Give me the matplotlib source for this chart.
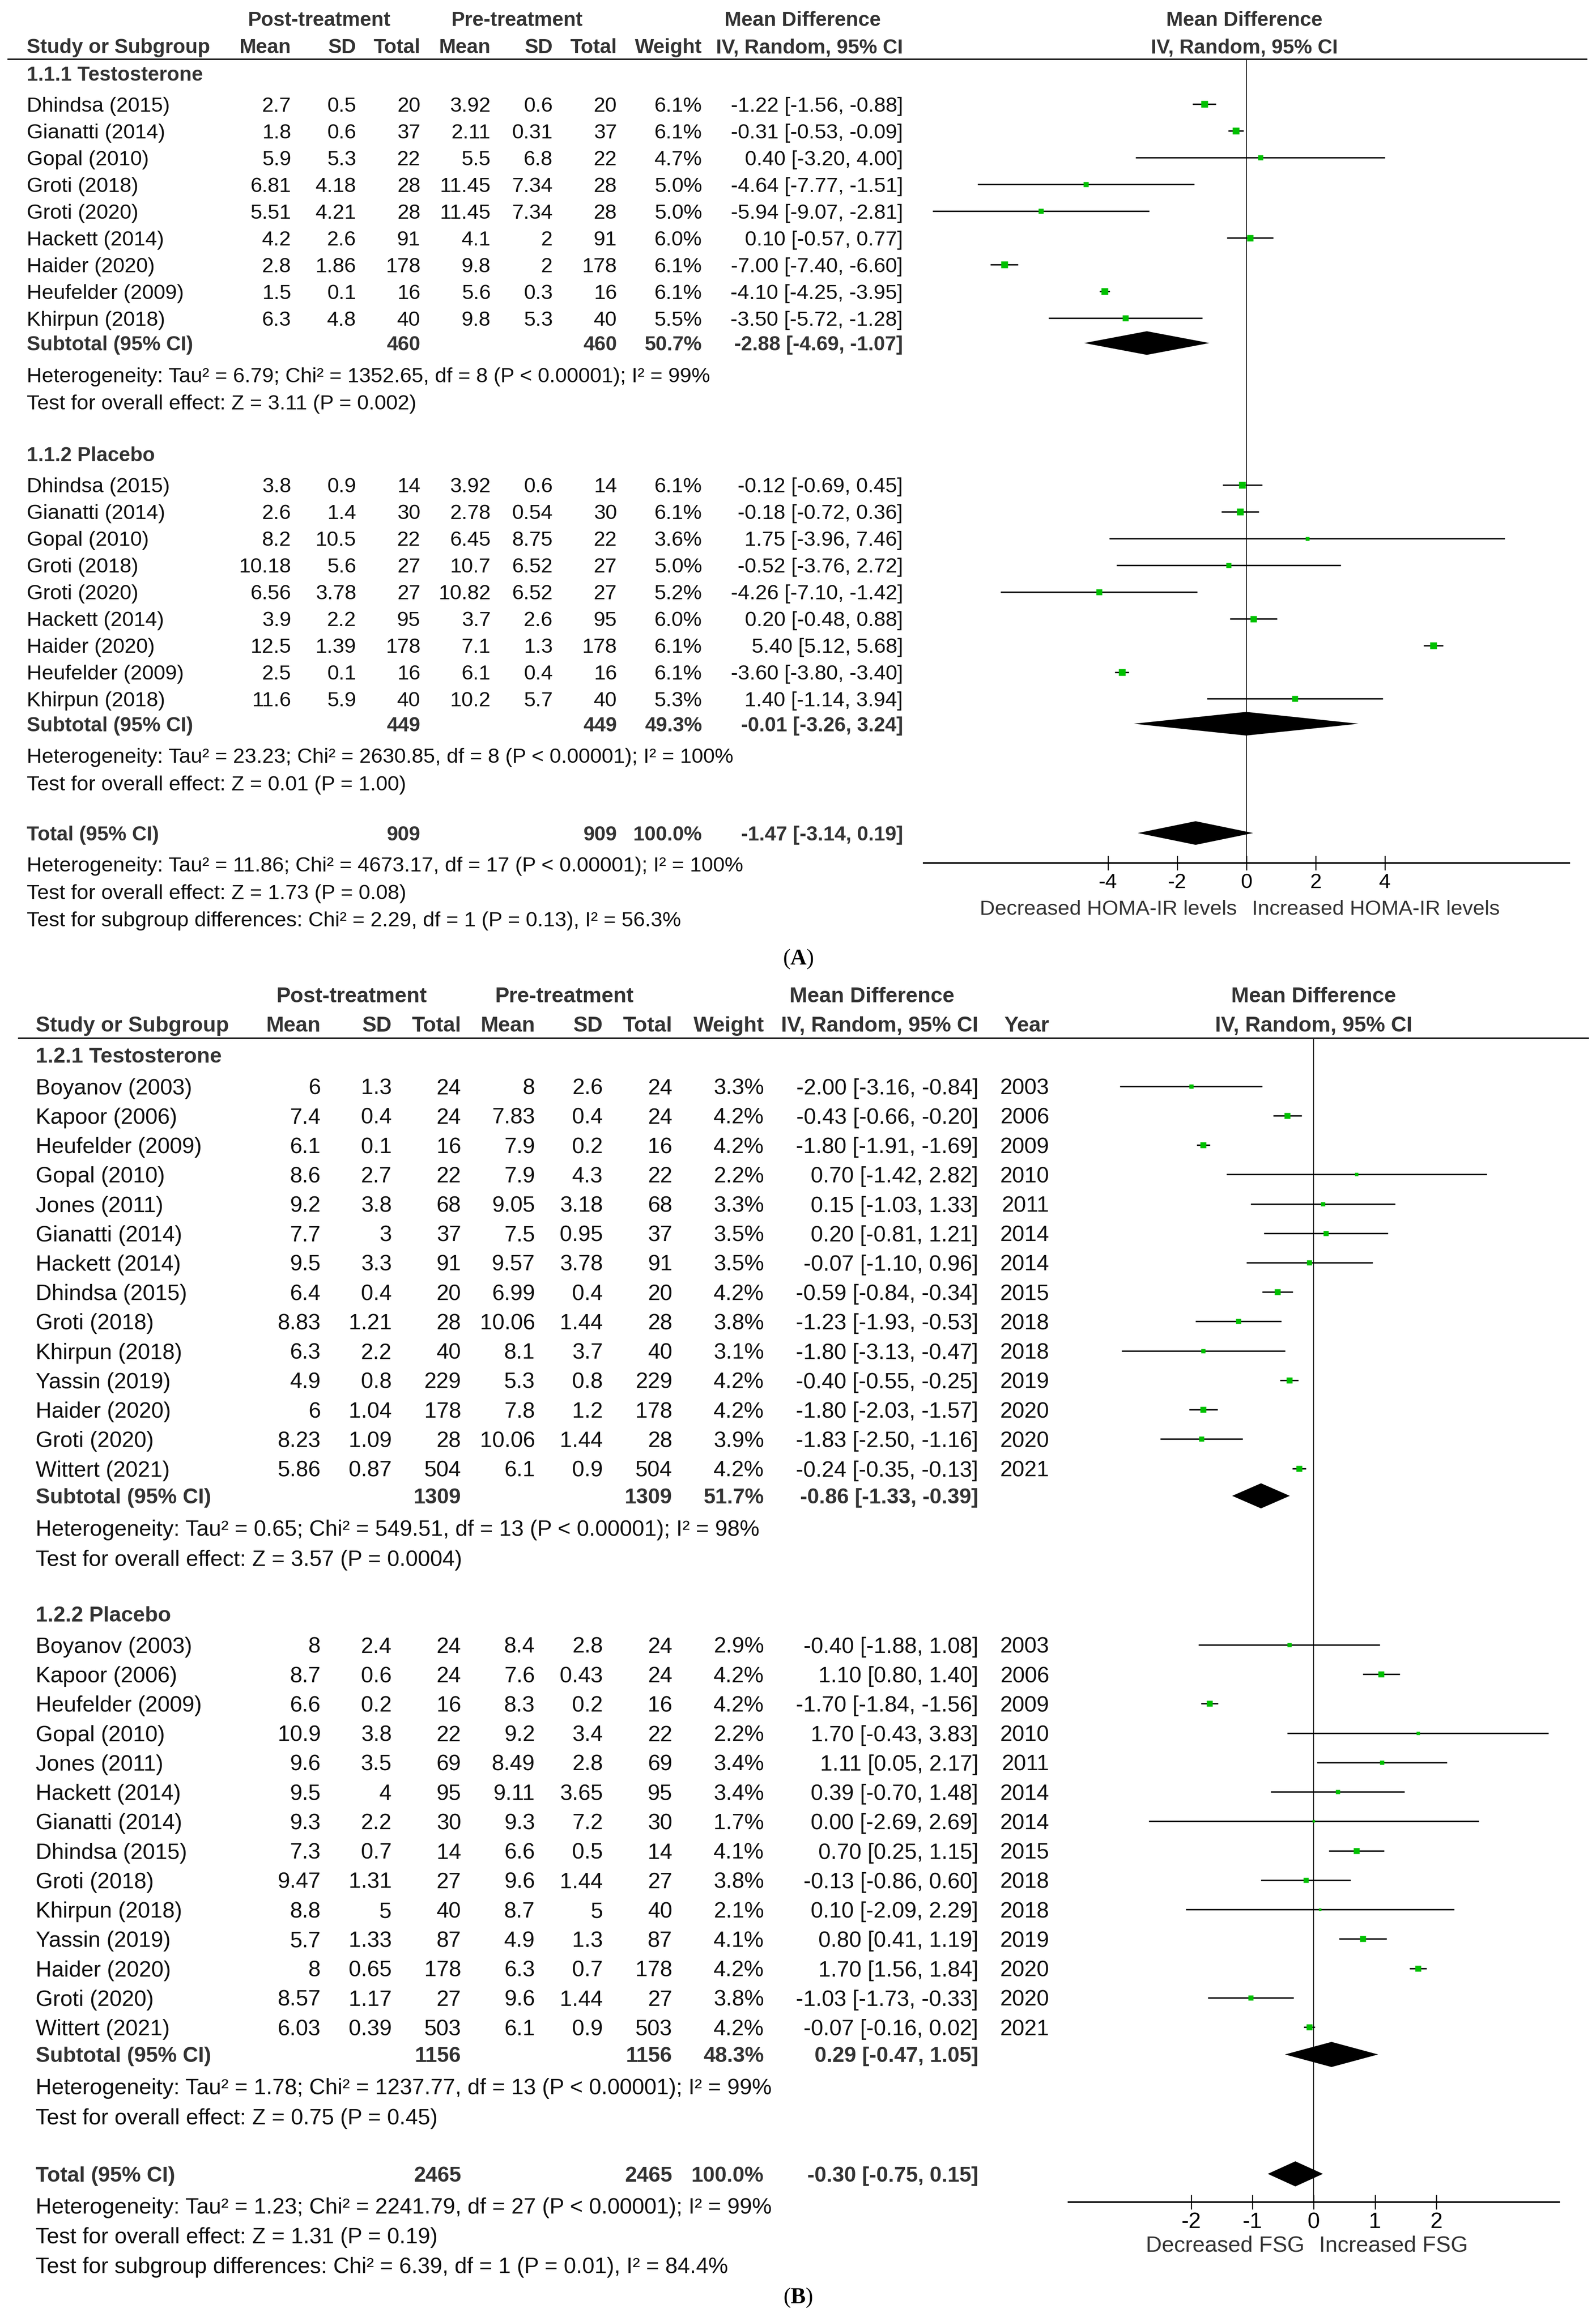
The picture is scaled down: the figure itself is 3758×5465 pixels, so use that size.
import matplotlib
matplotlib.use("Agg")
import matplotlib.pyplot as plt

# ---------------- Panel A: HOMA-IR ----------------
a1_study = ["Dhindsa (2015)", "Gianatti (2014)", "Gopal (2010)", "Groti (2018)", "Groti (2020)",
            "Hackett (2014)", "Haider (2020)", "Heufelder (2009)", "Khirpun (2018)"]
a1_post_mean = [2.7, 1.8, 5.9, 6.81, 5.51, 4.2, 2.8, 1.5, 6.3]
a1_post_sd = [0.5, 0.6, 5.3, 4.18, 4.21, 2.6, 1.86, 0.1, 4.8]
a1_post_n = [20, 37, 22, 28, 28, 91, 178, 16, 40]
a1_pre_mean = [3.92, 2.11, 5.5, 11.45, 11.45, 4.1, 9.8, 5.6, 9.8]
a1_pre_sd = [0.6, 0.31, 6.8, 7.34, 7.34, 2, 2, 0.3, 5.3]
a1_pre_n = [20, 37, 22, 28, 28, 91, 178, 16, 40]
a1_weight = [6.1, 6.1, 4.7, 5.0, 5.0, 6.0, 6.1, 6.1, 5.5]
a1_md = [-1.22, -0.31, 0.40, -4.64, -5.94, 0.10, -7.00, -4.10, -3.50]
a1_lo = [-1.56, -0.53, -3.20, -7.77, -9.07, -0.57, -7.40, -4.25, -5.72]
a1_hi = [-0.88, -0.09, 4.00, -1.51, -2.81, 0.77, -6.60, -3.95, -1.28]
a1_subtotal = [460, 460, 50.7, -2.88, -4.69, -1.07]
a1_notes = ["Heterogeneity: Tau² = 6.79; Chi² = 1352.65, df = 8 (P < 0.00001); I² = 99%",
            "Test for overall effect: Z = 3.11 (P = 0.002)"]

a2_study = a1_study
a2_post_mean = [3.8, 2.6, 8.2, 10.18, 6.56, 3.9, 12.5, 2.5, 11.6]
a2_post_sd = [0.9, 1.4, 10.5, 5.6, 3.78, 2.2, 1.39, 0.1, 5.9]
a2_post_n = [14, 30, 22, 27, 27, 95, 178, 16, 40]
a2_pre_mean = [3.92, 2.78, 6.45, 10.7, 10.82, 3.7, 7.1, 6.1, 10.2]
a2_pre_sd = [0.6, 0.54, 8.75, 6.52, 6.52, 2.6, 1.3, 0.4, 5.7]
a2_pre_n = [14, 30, 22, 27, 27, 95, 178, 16, 40]
a2_weight = [6.1, 6.1, 3.6, 5.0, 5.2, 6.0, 6.1, 6.1, 5.3]
a2_md = [-0.12, -0.18, 1.75, -0.52, -4.26, 0.20, 5.40, -3.60, 1.40]
a2_lo = [-0.69, -0.72, -3.96, -3.76, -7.10, -0.48, 5.12, -3.80, -1.14]
a2_hi = [0.45, 0.36, 7.46, 2.72, -1.42, 0.88, 5.68, -3.40, 3.94]
a2_subtotal = [449, 449, 49.3, -0.01, -3.26, 3.24]
a2_notes = ["Heterogeneity: Tau² = 23.23; Chi² = 2630.85, df = 8 (P < 0.00001); I² = 100%",
            "Test for overall effect: Z = 0.01 (P = 1.00)"]

a_total = [909, 909, 100.0, -1.47, -3.14, 0.19]
a_total_notes = ["Heterogeneity: Tau² = 11.86; Chi² = 4673.17, df = 17 (P < 0.00001); I² = 100%",
                 "Test for overall effect: Z = 1.73 (P = 0.08)",
                 "Test for subgroup differences: Chi² = 2.29, df = 1 (P = 0.13), I² = 56.3%"]
a_ticks = [-4, -2, 0, 2, 4]
a_xlabels = ["Decreased HOMA-IR levels", "Increased HOMA-IR levels"]

# ---------------- Panel B: FSG ----------------
b1_study = ["Boyanov (2003)", "Kapoor (2006)", "Heufelder (2009)", "Gopal (2010)", "Jones (2011)",
            "Gianatti (2014)", "Hackett (2014)", "Dhindsa (2015)", "Groti (2018)", "Khirpun (2018)",
            "Yassin (2019)", "Haider (2020)", "Groti (2020)", "Wittert (2021)"]
b1_post_mean = [6, 7.4, 6.1, 8.6, 9.2, 7.7, 9.5, 6.4, 8.83, 6.3, 4.9, 6, 8.23, 5.86]
b1_post_sd = [1.3, 0.4, 0.1, 2.7, 3.8, 3, 3.3, 0.4, 1.21, 2.2, 0.8, 1.04, 1.09, 0.87]
b1_post_n = [24, 24, 16, 22, 68, 37, 91, 20, 28, 40, 229, 178, 28, 504]
b1_pre_mean = [8, 7.83, 7.9, 7.9, 9.05, 7.5, 9.57, 6.99, 10.06, 8.1, 5.3, 7.8, 10.06, 6.1]
b1_pre_sd = [2.6, 0.4, 0.2, 4.3, 3.18, 0.95, 3.78, 0.4, 1.44, 3.7, 0.8, 1.2, 1.44, 0.9]
b1_pre_n = [24, 24, 16, 22, 68, 37, 91, 20, 28, 40, 229, 178, 28, 504]
b1_weight = [3.3, 4.2, 4.2, 2.2, 3.3, 3.5, 3.5, 4.2, 3.8, 3.1, 4.2, 4.2, 3.9, 4.2]
b1_md = [-2.00, -0.43, -1.80, 0.70, 0.15, 0.20, -0.07, -0.59, -1.23, -1.80, -0.40, -1.80, -1.83, -0.24]
b1_lo = [-3.16, -0.66, -1.91, -1.42, -1.03, -0.81, -1.10, -0.84, -1.93, -3.13, -0.55, -2.03, -2.50, -0.35]
b1_hi = [-0.84, -0.20, -1.69, 2.82, 1.33, 1.21, 0.96, -0.34, -0.53, -0.47, -0.25, -1.57, -1.16, -0.13]
b1_year = [2003, 2006, 2009, 2010, 2011, 2014, 2014, 2015, 2018, 2018, 2019, 2020, 2020, 2021]
b1_subtotal = [1309, 1309, 51.7, -0.86, -1.33, -0.39]
b1_notes = ["Heterogeneity: Tau² = 0.65; Chi² = 549.51, df = 13 (P < 0.00001); I² = 98%",
            "Test for overall effect: Z = 3.57 (P = 0.0004)"]

b2_study = ["Boyanov (2003)", "Kapoor (2006)", "Heufelder (2009)", "Gopal (2010)", "Jones (2011)",
            "Hackett (2014)", "Gianatti (2014)", "Dhindsa (2015)", "Groti (2018)", "Khirpun (2018)",
            "Yassin (2019)", "Haider (2020)", "Groti (2020)", "Wittert (2021)"]
b2_post_mean = [8, 8.7, 6.6, 10.9, 9.6, 9.5, 9.3, 7.3, 9.47, 8.8, 5.7, 8, 8.57, 6.03]
b2_post_sd = [2.4, 0.6, 0.2, 3.8, 3.5, 4, 2.2, 0.7, 1.31, 5, 1.33, 0.65, 1.17, 0.39]
b2_post_n = [24, 24, 16, 22, 69, 95, 30, 14, 27, 40, 87, 178, 27, 503]
b2_pre_mean = [8.4, 7.6, 8.3, 9.2, 8.49, 9.11, 9.3, 6.6, 9.6, 8.7, 4.9, 6.3, 9.6, 6.1]
b2_pre_sd = [2.8, 0.43, 0.2, 3.4, 2.8, 3.65, 7.2, 0.5, 1.44, 5, 1.3, 0.7, 1.44, 0.9]
b2_pre_n = [24, 24, 16, 22, 69, 95, 30, 14, 27, 40, 87, 178, 27, 503]
b2_weight = [2.9, 4.2, 4.2, 2.2, 3.4, 3.4, 1.7, 4.1, 3.8, 2.1, 4.1, 4.2, 3.8, 4.2]
b2_md = [-0.40, 1.10, -1.70, 1.70, 1.11, 0.39, 0.00, 0.70, -0.13, 0.10, 0.80, 1.70, -1.03, -0.07]
b2_lo = [-1.88, 0.80, -1.84, -0.43, 0.05, -0.70, -2.69, 0.25, -0.86, -2.09, 0.41, 1.56, -1.73, -0.16]
b2_hi = [1.08, 1.40, -1.56, 3.83, 2.17, 1.48, 2.69, 1.15, 0.60, 2.29, 1.19, 1.84, -0.33, 0.02]
b2_year = [2003, 2006, 2009, 2010, 2011, 2014, 2014, 2015, 2018, 2018, 2019, 2020, 2020, 2021]
b2_subtotal = [1156, 1156, 48.3, 0.29, -0.47, 1.05]
b2_notes = ["Heterogeneity: Tau² = 1.78; Chi² = 1237.77, df = 13 (P < 0.00001); I² = 99%",
            "Test for overall effect: Z = 0.75 (P = 0.45)"]

b_total = [2465, 2465, 100.0, -0.30, -0.75, 0.15]
b_total_notes = ["Heterogeneity: Tau² = 1.23; Chi² = 2241.79, df = 27 (P < 0.00001); I² = 99%",
                 "Test for overall effect: Z = 1.31 (P = 0.19)",
                 "Test for subgroup differences: Chi² = 6.39, df = 1 (P = 0.01), I² = 84.4%"]
b_ticks = [-2, -1, 0, 1, 2]
b_xlabels = ["Decreased FSG", "Increased FSG"]

FONT = ["Liberation Sans", "DejaVu Sans"]
plt.rcParams["font.family"] = FONT
plt.rcParams["mathtext.fontset"] = "custom"
plt.rcParams["mathtext.rm"] = "Liberation Serif"
plt.rcParams["mathtext.bf"] = "Liberation Serif:bold"

TXT = "#111111"
HDR = "#333333"
GREEN = "#00c000"
BOLD_SCALE = 0.965

W = 1080.0
H = W * 5465 / 3758

fig = plt.figure(figsize=(37.58, 54.65), dpi=100)
ax0 = fig.add_axes([0, 0, 1, 1])
ax0.set_xlim(0, W)
ax0.set_ylim(H, 0)
ax0.axis("off")


def fmt(v):
    return f"{v:g}"


def ci_text(md, lo, hi):
    return f"{md:.2f} [{lo:.2f}, {hi:.2f}]"


def put(x, y, s, fs, ha="left", bold=False, color=TXT):
    ax0.text(x, y, s, fontsize=fs * BOLD_SCALE if bold else fs, ha=ha, va="center_baseline",
             fontweight="bold" if bold else "normal", color=color)


def forest_axes(x0, x1, ytop, ybot, xlim, ticks, fs):
    ax = fig.add_axes([x0 / W, 1 - ybot / H, (x1 - x0) / W, (ybot - ytop) / H])
    ax.set_xlim(*xlim)
    ax.set_ylim(ybot, ytop)
    for s in ("top", "left", "right"):
        ax.spines[s].set_visible(False)
    ax.spines["bottom"].set_linewidth(2.8)
    ax.set_yticks([])
    ax.set_xticks(ticks)
    ax.set_xticklabels([fmt(t) for t in ticks])
    ax.tick_params(axis="x", direction="inout", length=24, width=1.8, pad=5, labelsize=fs)
    ax.axvline(0, color="#222222", lw=1.6, zorder=1)
    ax.patch.set_alpha(0)
    return ax


def diamond(ax, y, md, lo, hi, h):
    ax.fill([lo, md, hi, md], [y, y - h, y, y + h], color="black", lw=0, zorder=3)


def summary_row(y, label, vals, cols, fs, axf, h):
    put(cols["study"], y, label, fs, bold=True, color=HDR)
    put(cols["total"], y, str(vals[0]), fs, ha="right", bold=True, color=HDR)
    put(cols["ptotal"], y, str(vals[1]), fs, ha="right", bold=True, color=HDR)
    put(cols["weight"], y, f"{vals[2]:.1f}%", fs, ha="right", bold=True, color=HDR)
    put(cols["ci"], y, ci_text(vals[3], vals[4], vals[5]), fs, ha="right", bold=True, color=HDR)
    diamond(axf, y, vals[3], vals[4], vals[5], h)


def draw_group(y, label, study, pm, psd, pn, qm, qsd, qn, wt, md, lo, hi, year,
               subtotal, notes, cols, fs, step, axf, msc, h):
    put(cols["study"], y, label, fs, bold=True, color=HDR)
    y = y + 21
    for i in range(len(study)):
        yy = y + i * step
        put(cols["study"], yy, study[i], fs)
        put(cols["mean"], yy, fmt(pm[i]), fs, ha="right")
        put(cols["sd"], yy, fmt(psd[i]), fs, ha="right")
        put(cols["total"], yy, str(pn[i]), fs, ha="right")
        put(cols["pmean"], yy, fmt(qm[i]), fs, ha="right")
        put(cols["psd"], yy, fmt(qsd[i]), fs, ha="right")
        put(cols["ptotal"], yy, str(qn[i]), fs, ha="right")
        put(cols["weight"], yy, f"{wt[i]:.1f}%", fs, ha="right")
        put(cols["ci"], yy, ci_text(md[i], lo[i], hi[i]), fs, ha="right")
        if year is not None:
            put(cols["year"], yy, str(year[i]), fs, ha="right")
        axf.plot([lo[i], hi[i]], [yy, yy], color="black", lw=2.4, zorder=2, solid_capstyle="butt")
        axf.plot([md[i]], [yy], marker="s", ms=msc * wt[i], color=GREEN, mec="none", zorder=4)
    ys = y + (len(study) - 1) * step + 0.93 * step
    summary_row(ys, "Subtotal (95% CI)", subtotal, cols, fs, axf, h)
    yn = ys + 21.5
    for k, s in enumerate(notes):
        put(cols["study"], yn + k * step * 1.02, s, fs)
    return yn + (len(notes) - 1) * step * 1.02


def header(y1, y2, yline, cols, centers, fs, xline, year=False):
    put(centers[0], y1, "Post-treatment", fs, ha="center", bold=True, color=HDR)
    put(centers[1], y1, "Pre-treatment", fs, ha="center", bold=True, color=HDR)
    put(centers[2], y1, "Mean Difference", fs, ha="center", bold=True, color=HDR)
    put(centers[3], y1, "Mean Difference", fs, ha="center", bold=True, color=HDR)
    put(cols["study"], y2, "Study or Subgroup", fs, bold=True, color=HDR)
    for key, s in [("mean", "Mean"), ("sd", "SD"), ("total", "Total"), ("pmean", "Mean"),
                   ("psd", "SD"), ("ptotal", "Total"), ("weight", "Weight"),
                   ("ci", "IV, Random, 95% CI")]:
        put(cols[key], y2, s, fs, ha="right", bold=True, color=HDR)
    if year:
        put(cols["year"], y2, "Year", fs, ha="right", bold=True, color=HDR)
    put(centers[3], y2, "IV, Random, 95% CI", fs, ha="center", bold=True, color=HDR)
    ax0.plot(xline, [yline, yline], color="black", lw=2.4, solid_capstyle="butt")


# ---------- Panel A ----------
fsA = 35.5
colsA = {"study": 18, "mean": 197, "sd": 241, "total": 284.5, "pmean": 332, "psd": 374,
         "ptotal": 417.5, "weight": 475, "ci": 611}
header(12.5, 31, 40, colsA, [216, 350, 543, 842], fsA, [5, 1074])
axA = forest_axes(625, 1062, 40, 584, (-9.33, 9.33), a_ticks, fsA)
stepA = 18.1
y = draw_group(49.5, "1.1.1 Testosterone", a1_study, a1_post_mean, a1_post_sd, a1_post_n,
               a1_pre_mean, a1_pre_sd, a1_pre_n, a1_weight, a1_md, a1_lo, a1_hi, None,
               a1_subtotal, a1_notes, colsA, fsA, stepA, axA, 1.8, 8)
y = draw_group(y + 35, "1.1.2 Placebo", a2_study, a2_post_mean, a2_post_sd, a2_post_n,
               a2_pre_mean, a2_pre_sd, a2_pre_n, a2_weight, a2_md, a2_lo, a2_hi, None,
               a2_subtotal, a2_notes, colsA, fsA, stepA, axA, 1.8, 8)
yt = y + 34
summary_row(yt, "Total (95% CI)", a_total, colsA, fsA, axA, 8)
for k, s in enumerate(a_total_notes):
    put(colsA["study"], yt + 21 + k * 18.6, s, fsA)
put(750, 614, a_xlabels[0], fsA, ha="center", color=HDR)
put(931, 614, a_xlabels[1], fsA, ha="center", color=HDR)
ax0.text(540, 647, r"(${\bf A}$)", fontsize=38, ha="center", va="center_baseline",
         family="Liberation Serif", color="black")

# ---------- Panel B ----------
fsB = 37.5
colsB = {"study": 24, "mean": 217, "sd": 265, "total": 312, "pmean": 362, "psd": 408,
         "ptotal": 455, "weight": 517, "ci": 662, "year": 710}
header(673, 693, 702.5, colsB, [238, 382, 590, 889], fsB, [12, 1075], year=True)
axB = forest_axes(723, 1055, 702.5, 1490, (-4, 4), b_ticks, fsB)
stepB = 19.9
y = draw_group(714, "1.2.1 Testosterone", b1_study, b1_post_mean, b1_post_sd, b1_post_n,
               b1_pre_mean, b1_pre_sd, b1_pre_n, b1_weight, b1_md, b1_lo, b1_hi, b1_year,
               b1_subtotal, b1_notes, colsB, fsB, stepB, axB, 2.3, 8.5)
y = draw_group(y + 38, "1.2.2 Placebo", b2_study, b2_post_mean, b2_post_sd, b2_post_n,
               b2_pre_mean, b2_pre_sd, b2_pre_n, b2_weight, b2_md, b2_lo, b2_hi, b2_year,
               b2_subtotal, b2_notes, colsB, fsB, stepB, axB, 2.3, 8.5)
yt = y + 39
summary_row(yt, "Total (95% CI)", b_total, colsB, fsB, axB, 8.5)
for k, s in enumerate(b_total_notes):
    put(colsB["study"], yt + 21.5 + k * 20, s, fsB)
put(829, 1518, b_xlabels[0], fsB, ha="center", color=HDR)
put(943, 1518, b_xlabels[1], fsB, ha="center", color=HDR)
ax0.text(540, 1553, r"(${\bf B}$)", fontsize=38, ha="center", va="center_baseline",
         family="Liberation Serif", color="black")

fig.savefig("out.png", dpi=100, facecolor="white")
